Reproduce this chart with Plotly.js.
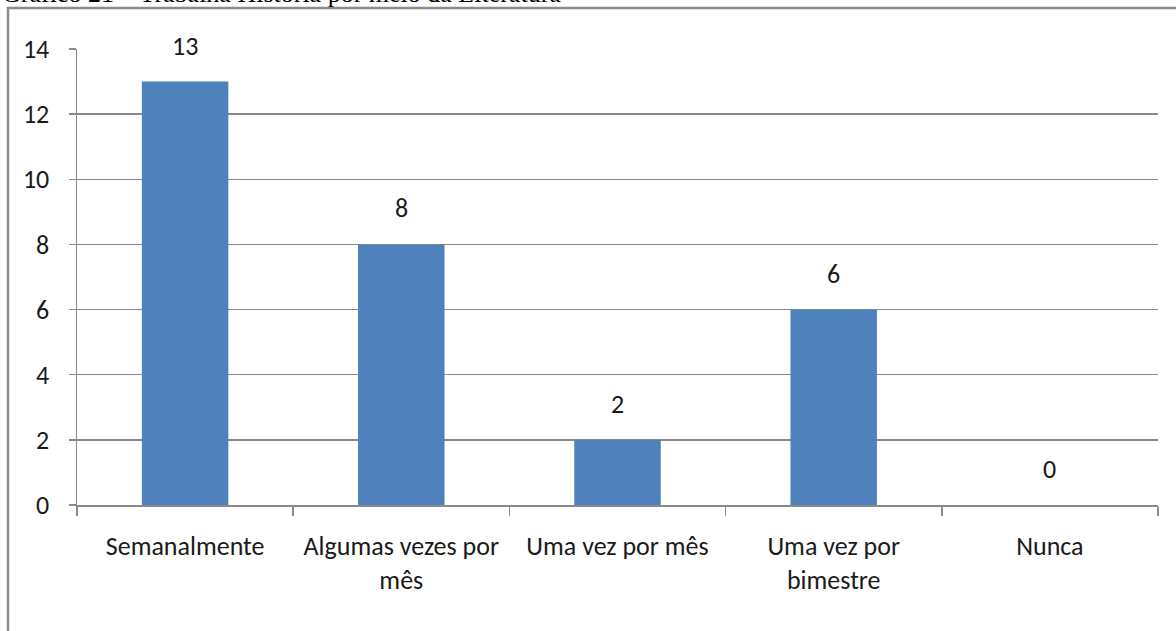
<!DOCTYPE html>
<html>
<head>
<meta charset="utf-8">
<script src="https://cdn.plot.ly/plotly-3.0.1.min.js"></script>
<style>
html,body{margin:0;padding:0;background:#fff;}
#chart{width:1176px;height:631px;}
</style>
</head>
<body>
<div id="chart"></div>
<script>
const categories = ["Semanalmente", "Algumas vezes por mês", "Uma vez por mês", "Uma vez por bimestre", "Nunca"];
const tickLabels = ["Semanalmente", "Algumas vezes por<br>mês", "Uma vez por mês", "Uma vez por<br>bimestre", "Nunca"];
const values = [13, 8, 2, 6, 0];
const titleText = "Gráfico 21 – Trabalha História por meio da Literatura";

const W = 1176, H = 631;
const M = {l: 77, r: 18, t: 49, b: 126};
const pw = W - M.l - M.r, ph = H - M.t - M.b;
const px = x => (x - M.l) / pw;
const py = y => 1 - (y - M.t) / ph;

const font = "Carlito, Lato, 'Liberation Sans', sans-serif";
const txtColor = "#1a1a1a";
const gridColor = "#8a8a8a";

const trace = {
  type: "bar",
  x: categories,
  y: values,
  marker: {color: "#4F81BD"},
  hoverinfo: "x+y"
};

const annotations = categories.map((c, i) => ({
  x: c, y: values[i], xref: "x", yref: "y",
  text: String(values[i]), showarrow: false,
  yanchor: "middle", yshift: 36,
  font: {family: font, size: 26, color: txtColor}
}));
annotations.push({
  xref: "paper", yref: "paper", x: px(0), y: py(-6),
  xanchor: "left", yanchor: "middle",
  text: titleText, showarrow: false,
  font: {family: "'Liberation Serif', 'Times New Roman', serif", size: 26, color: "#000"}
});

const layout = {
  width: W, height: H,
  margin: M,
  paper_bgcolor: "#fff", plot_bgcolor: "#fff",
  bargap: 0.6,
  showlegend: false,
  xaxis: {
    type: "category",
    tickvals: categories,
    ticktext: tickLabels,
    range: [-0.5, 4.5],
    showline: true, linecolor: gridColor, linewidth: 1.5,
    ticks: "outside", tickson: "boundaries", ticklen: 9, tickcolor: gridColor, tickwidth: 1.5,
    ticklabelstandoff: 17,
    tickfont: {family: font, size: 26, color: txtColor},
    showgrid: false, zeroline: false, fixedrange: true
  },
  yaxis: {
    range: [0, 14], dtick: 2, tick0: 0,
    showline: true, linecolor: gridColor, linewidth: 1.5,
    ticks: "outside", ticklen: 7, tickcolor: gridColor, tickwidth: 1.5,
    ticklabelstandoff: 14,
    tickfont: {family: font, size: 26, color: txtColor},
    showgrid: true, gridcolor: gridColor, gridwidth: 1.5,
    zeroline: false, fixedrange: true
  },
  annotations: annotations,
  shapes: [{
    type: "rect", xref: "paper", yref: "paper",
    x0: px(8), x1: px(1185), y0: py(640), y1: py(8),
    line: {color: "#8c8c8c", width: 2.5}, fillcolor: "rgba(0,0,0,0)", layer: "below"
  }]
};

Plotly.newPlot("chart", [trace], layout, {staticPlot: true, displayModeBar: false});
</script>
</body>
</html>
